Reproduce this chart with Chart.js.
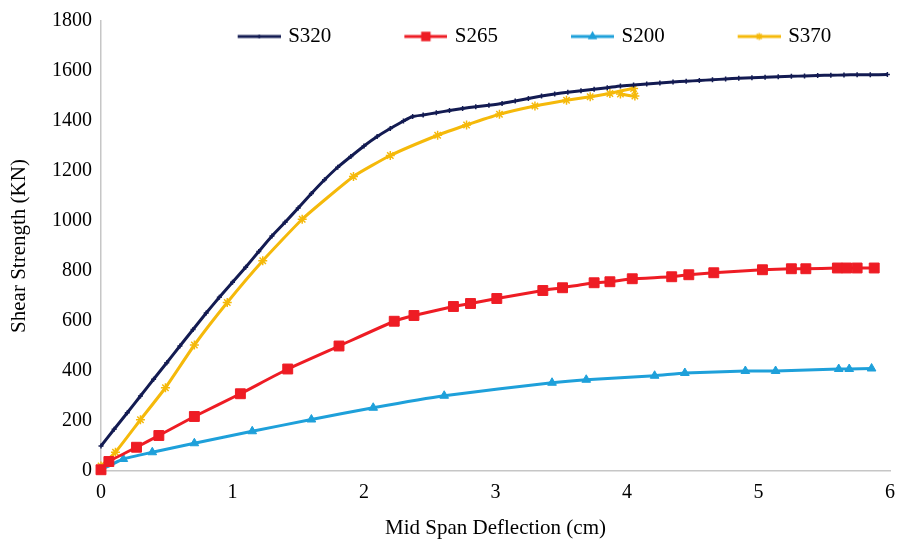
<!DOCTYPE html>
<html><head><meta charset="utf-8">
<script src="https://cdn.jsdelivr.net/npm/chart.js@4.4.1/dist/chart.umd.min.js"></script>
<style>html,body{margin:0;padding:0;background:#fff}#wrap{width:898px;height:545px;position:relative}</style>
</head><body><div id="wrap"><canvas id="c"></canvas></div>
<script>
const seriesNames = ['S320', 'S265', 'S200', 'S370'];

const s320X = [0, 0.1, 0.2, 0.3, 0.4, 0.5, 0.6, 0.7, 0.8, 0.9, 1.0, 1.1, 1.2, 1.3, 1.4, 1.5, 1.6, 1.7, 1.8, 1.9, 2.0, 2.1, 2.2, 2.3, 2.37, 2.45, 2.55, 2.65, 2.75, 2.85, 2.95, 3.05, 3.15, 3.25, 3.35, 3.45, 3.55, 3.65, 3.75, 3.85, 3.95, 4.05, 4.15, 4.25, 4.35, 4.45, 4.55, 4.65, 4.75, 4.85, 4.95, 5.05, 5.15, 5.25, 5.35, 5.45, 5.55, 5.65, 5.75, 5.85, 5.98];
const s320Y = [100, 167, 233, 300, 367, 433, 500, 566, 632, 695, 755, 815, 878, 940, 995, 1052, 1110, 1165, 1215, 1258, 1300, 1338, 1370, 1400, 1418, 1424, 1433, 1442, 1450, 1457, 1463, 1470, 1480, 1490, 1500, 1508, 1515, 1521, 1527, 1533, 1540, 1544, 1548, 1552, 1556, 1559, 1562, 1565, 1568, 1571, 1573, 1575, 1577, 1579, 1580, 1582, 1583, 1584, 1585, 1585, 1586];

const s265X = [0, 0.06, 0.27, 0.44, 0.71, 1.06, 1.42, 1.81, 2.23, 2.38, 2.68, 2.81, 3.01, 3.36, 3.51, 3.75, 3.87, 4.04, 4.34, 4.47, 4.66, 5.03, 5.25, 5.36, 5.60, 5.67, 5.75, 5.88];
const s265Y = [5, 38, 95, 142, 218, 309, 408, 500, 599, 622, 658, 670, 690, 722, 733, 753, 757, 769, 777, 785, 793, 805, 809, 809, 812, 812, 812, 812];

const s200X = [0, 0.17, 0.39, 0.71, 1.15, 1.60, 2.07, 2.61, 3.43, 3.69, 4.21, 4.44, 4.90, 5.13, 5.61, 5.69, 5.86];
const s200Y = [5, 48, 75, 111, 159, 206, 253, 301, 353, 365, 381, 392, 400, 400, 408, 408, 410];

const s370X = [0, 0.11, 0.3, 0.49, 0.71, 0.96, 1.23, 1.53, 1.92, 2.2, 2.56, 2.78, 3.03, 3.3, 3.54, 3.72, 3.87, 4.05, 4.06, 3.95];
const s370Y = [20, 75, 205, 333, 504, 674, 841, 1007, 1178, 1262, 1343, 1384, 1427, 1460, 1483, 1497, 1510, 1530, 1500, 1508];

const xTickValues = [0, 1, 2, 3, 4, 5, 6];
const yTickValues = [0, 200, 400, 600, 800, 1000, 1200, 1400, 1600, 1800];

const xTitle = 'Mid Span Deflection (cm)';
const yTitle = 'Shear Strength (KN)';

const colors = ['#131b52', '#ee1c24', '#1ea0da', '#f5b90a'];
const styles = ['cross', 'rect', 'triangle', 'star'];
const radii = [2.5, 7, 5, 4.5];

function toPoints(xs, ys) { return xs.map((x, i) => ({x: x, y: ys[i]})); }
const seriesData = [toPoints(s320X, s320Y), toPoints(s265X, s265Y), toPoints(s200X, s200Y), toPoints(s370X, s370Y)];

const FONT = "'Liberation Serif', 'Times New Roman', serif";
const LEG_W = 108;
const LEG_EXT = 3;

function legendImage(i) {
  const c = document.createElement('canvas');
  c.width = LEG_W + 2 * LEG_EXT; c.height = 16;
  const ctx = c.getContext('2d');
  const x1 = c.width, x0 = x1 - 43, cy = 8;
  ctx.strokeStyle = colors[i]; ctx.fillStyle = colors[i]; ctx.lineWidth = 3;
  ctx.beginPath(); ctx.moveTo(x0, cy); ctx.lineTo(x1, cy); ctx.stroke();
  ctx.lineWidth = 1.5;
  Chart.helpers.drawPoint(ctx, {pointStyle: styles[i], radius: radii[i] * 0.8, borderWidth: 1.5, rotation: 0}, (x0 + x1) / 2, cy);
  return c;
}

const datasets = seriesNames.map((name, i) => ({
  label: name,
  data: seriesData[i],
  showLine: true,
  borderColor: colors[i],
  backgroundColor: colors[i],
  borderWidth: 3,
  pointStyle: styles[i],
  pointRadius: radii[i],
  pointBorderWidth: i === 3 ? 1.5 : (i === 0 ? 1.5 : 1),
  pointBorderColor: colors[i],
  pointBackgroundColor: colors[i],
  tension: 0.15,
  clip: false
}));

// lay the in-plot legend out as a single row across the upper plot area
const legendRowPlugin = {
  id: 'legendRow',
  beforeLayout(chart) {
    if (chart.legend) chart.legend.isHorizontal = () => true;
  },
  afterLayout(chart) {
    const lg = chart.legend, ca = chart.chartArea;
    if (lg && ca) { lg.left = ca.left + 10; lg.right = ca.right; lg.top = ca.top; }
  }
};

new Chart(document.getElementById('c'), {
  type: 'scatter',
  data: {datasets: datasets},
  plugins: [legendRowPlugin],
  options: {
    responsive: true,
    maintainAspectRatio: false,
    animation: false,
    layout: {padding: {left: 0, right: 7, top: 18, bottom: 0}},
    plugins: {
      tooltip: {enabled: false},
      legend: {
        position: 'chartArea',
        align: 'center',
        labels: {
          usePointStyle: true,
          pointStyleWidth: LEG_W,
          padding: 5,
          color: '#000',
          font: {family: FONT, size: 21},
          generateLabels: function (chart) {
            const items = Chart.defaults.plugins.legend.labels.generateLabels(chart);
            items.forEach((it, i) => { it.pointStyle = legendImage(i); });
            return items;
          }
        }
      }
    },
    scales: {
      x: {
        type: 'linear',
        min: 0, max: 6,
        afterBuildTicks: s => { s.ticks = xTickValues.map(v => ({value: v})); },
        afterFit: s => { s.height = 74; s.paddingRight = 5; s.paddingLeft = 0; },
        grid: {display: false, drawTicks: false},
        border: {display: true, color: '#c6c6c6', width: 1.5},
        ticks: {padding: 10, color: '#000', font: {family: FONT, size: 20}, callback: v => String(v)},
        title: {display: true, text: xTitle, color: '#000', font: {family: FONT, size: 21}, padding: {top: 0, bottom: 4}}
      },
      y: {
        type: 'linear',
        min: 0, max: 1800,
        afterBuildTicks: s => { s.ticks = yTickValues.map(v => ({value: v})); },
        afterFit: s => { s.width = 101; },
        grid: {display: false, drawTicks: false},
        border: {display: true, color: '#c6c6c6', width: 1.5},
        ticks: {padding: 9, color: '#000', font: {family: FONT, size: 20}, callback: v => String(v)},
        title: {display: true, text: yTitle, color: '#000', font: {family: FONT, size: 21}, padding: {top: 7, bottom: 0}}
      }
    }
  }
});
</script>
</body></html>
